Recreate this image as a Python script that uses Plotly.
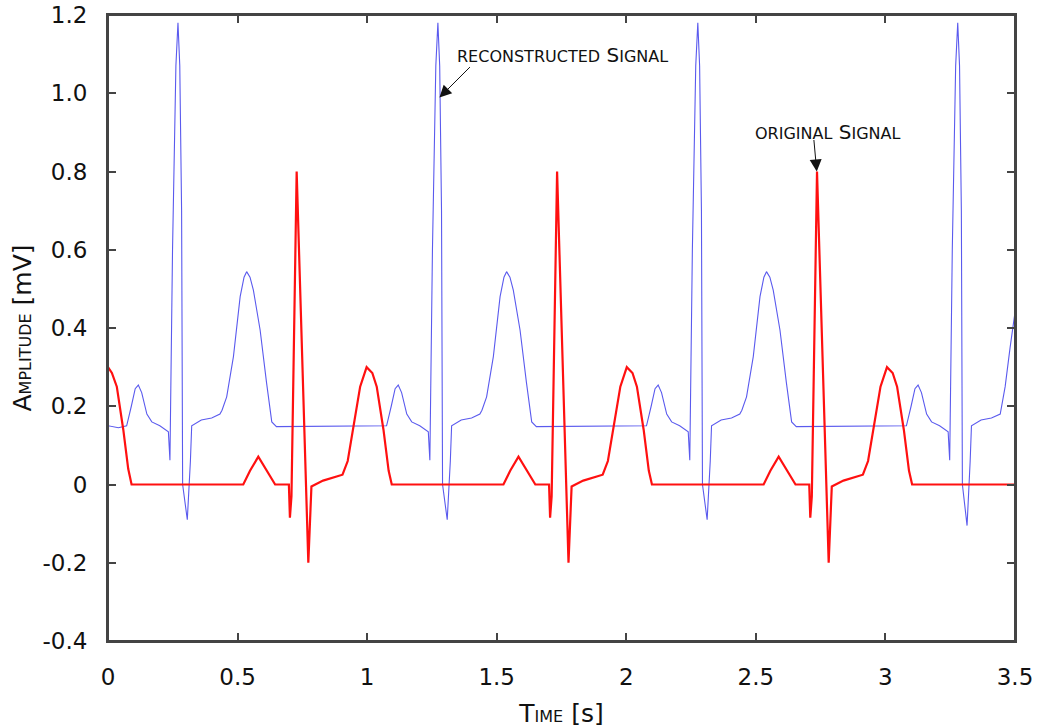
import plotly.graph_objects as go

# ---- data ----
original_time = [
    0.000, 0.015, 0.034, 0.059, 0.078, 0.091,
    0.522, 0.548, 0.580, 0.613, 0.645, 0.698, 0.702, 0.708, 0.728, 0.773, 0.785, 0.830, 0.905, 0.925,
    0.946, 0.973, 0.998, 1.020, 1.037, 1.063, 1.083, 1.095,
    1.526, 1.552, 1.584, 1.617, 1.649, 1.702, 1.706, 1.712, 1.733, 1.777, 1.789, 1.834, 1.909, 1.929,
    1.950, 1.977, 2.002, 2.024, 2.041, 2.067, 2.087, 2.099,
    2.530, 2.556, 2.588, 2.621, 2.653, 2.706, 2.710, 2.716, 2.736, 2.781, 2.793, 2.838, 2.913, 2.933,
    2.954, 2.981, 3.006, 3.028, 3.045, 3.071, 3.091, 3.103, 3.500,
]
original_mv = [
    0.300, 0.285, 0.250, 0.140, 0.040, 0.000,
    0.000, 0.035, 0.071, 0.035, 0.000, 0.000, -0.085, -0.030, 0.800, -0.200, -0.005, 0.010, 0.025, 0.060,
    0.140, 0.250, 0.300, 0.285, 0.250, 0.140, 0.035, 0.000,
    0.000, 0.035, 0.071, 0.035, 0.000, 0.000, -0.085, -0.030, 0.800, -0.200, -0.005, 0.010, 0.025, 0.060,
    0.140, 0.250, 0.300, 0.285, 0.250, 0.140, 0.035, 0.000,
    0.000, 0.035, 0.071, 0.035, 0.000, 0.000, -0.085, -0.030, 0.800, -0.200, -0.005, 0.010, 0.025, 0.060,
    0.140, 0.250, 0.300, 0.285, 0.250, 0.140, 0.035, 0.000, 0.000,
]

reconstructed_time = [
    0.000, 0.002, 0.040, 0.072, 0.090, 0.105, 0.117, 0.130, 0.150, 0.169, 0.200, 0.233, 0.239, 0.249,
    0.262, 0.270, 0.277, 0.284, 0.288, 0.306, 0.318, 0.323, 0.360, 0.400, 0.432, 0.440, 0.458, 0.484,
    0.510, 0.525, 0.535, 0.548, 0.561, 0.587, 0.612, 0.632, 0.650,
    1.075, 1.093, 1.108, 1.120, 1.133, 1.153, 1.172, 1.203, 1.236, 1.242, 1.252, 1.265, 1.273, 1.280,
    1.287, 1.291, 1.309, 1.321, 1.326, 1.363, 1.403, 1.435, 1.443, 1.461, 1.487, 1.513, 1.528, 1.538,
    1.551, 1.564, 1.590, 1.615, 1.635, 1.653,
    2.078, 2.096, 2.111, 2.123, 2.136, 2.156, 2.175, 2.206, 2.239, 2.245, 2.255, 2.268, 2.276, 2.283,
    2.290, 2.294, 2.312, 2.324, 2.329, 2.366, 2.406, 2.438, 2.446, 2.464, 2.490, 2.516, 2.531, 2.541,
    2.554, 2.567, 2.593, 2.618, 2.638, 2.656,
    3.081, 3.099, 3.114, 3.126, 3.139, 3.159, 3.178, 3.209, 3.242, 3.248, 3.258, 3.271, 3.279, 3.286,
    3.293, 3.297, 3.315, 3.327, 3.332, 3.369, 3.409, 3.443, 3.462, 3.481, 3.500,
]
reconstructed_mv = [
    0.020, 0.150, 0.145, 0.150, 0.200, 0.245, 0.254, 0.235, 0.180, 0.160, 0.150, 0.135, 0.062, 0.600,
    1.070, 1.180, 1.070, 0.700, 0.000, -0.090, 0.060, 0.150, 0.165, 0.170, 0.180, 0.190, 0.224, 0.327,
    0.480, 0.530, 0.544, 0.530, 0.497, 0.395, 0.259, 0.160, 0.148,
    0.150, 0.200, 0.245, 0.254, 0.235, 0.180, 0.160, 0.150, 0.135, 0.062, 0.600, 1.070, 1.180, 1.070,
    0.700, 0.000, -0.090, 0.060, 0.150, 0.165, 0.170, 0.180, 0.190, 0.224, 0.327, 0.480, 0.530, 0.544,
    0.530, 0.497, 0.395, 0.259, 0.160, 0.148,
    0.150, 0.200, 0.245, 0.254, 0.235, 0.180, 0.160, 0.150, 0.135, 0.062, 0.600, 1.070, 1.180, 1.070,
    0.700, 0.000, -0.090, 0.060, 0.150, 0.165, 0.170, 0.180, 0.190, 0.224, 0.327, 0.480, 0.530, 0.544,
    0.530, 0.497, 0.395, 0.259, 0.160, 0.148,
    0.150, 0.200, 0.245, 0.254, 0.235, 0.180, 0.160, 0.150, 0.135, 0.062, 0.600, 1.070, 1.180, 1.070,
    0.700, 0.000, -0.105, 0.060, 0.150, 0.165, 0.170, 0.180, 0.250, 0.350, 0.440,
]

x_tick_vals = [0, 0.5, 1, 1.5, 2, 2.5, 3, 3.5]
x_tick_text = ["0", "0.5", "1", "1.5", "2", "2.5", "3", "3.5"]
y_tick_vals = [-0.4, -0.2, 0, 0.2, 0.4, 0.6, 0.8, 1.0, 1.2]
y_tick_text = ["-0.4", "-0.2", "0", "0.2", "0.4", "0.6", "0.8", "1.0", "1.2"]

FONT = "DejaVu Sans"
INK = "#111111"
FRAME = "#444444"
fig = go.Figure()
fig.add_trace(go.Scatter(x=reconstructed_time, y=reconstructed_mv, mode="lines",
                         line=dict(color="#5a5aee", width=1.1), name="Reconstructed Signal"))
fig.add_trace(go.Scatter(x=original_time, y=original_mv, mode="lines",
                         line=dict(color="#ff1010", width=2.2), name="Original Signal"))

axis_common = dict(showline=True, linecolor=FRAME, linewidth=2, mirror="ticks",
                   ticks="inside", ticklen=8, tickcolor=FRAME, tickwidth=1.5,
                   showgrid=False, zeroline=False, automargin=False,
                   ticklabeloverflow="allow",
                   tickfont=dict(family=FONT, size=23, color=INK))

fig.update_xaxes(range=[0, 3.5], tickvals=x_tick_vals, ticktext=x_tick_text,
                 ticklabelstandoff=14,
                 title=dict(text='T<span style="font-size:16px">IME</span> [s]',
                            font=dict(family=FONT, size=25, color=INK), standoff=24),
                 **axis_common)
fig.update_yaxes(range=[-0.4, 1.2], tickvals=y_tick_vals, ticktext=y_tick_text,
                 ticklabelstandoff=14,
                 title=dict(text='A<span style="font-size:16px">MPLITUDE</span> [mV]',
                            font=dict(family=FONT, size=25, color=INK), standoff=4),
                 **axis_common)

# plot frame (top edge included)
fig.add_shape(type="rect", xref="paper", yref="paper", x0=0, x1=1, y0=0, y1=1,
              line=dict(color=FRAME, width=2), layer="above")

small = 'style="font-size:16px"'
fig.add_annotation(x=1.755, y=1.098, xref="x", yref="y", showarrow=False,
                   text=f'<span {small}>RECONSTRUCTED</span> S<span {small}>IGNAL</span>',
                   font=dict(family=FONT, size=20, color=INK))
fig.add_annotation(x=1.279, y=0.989, xref="x", yref="y", text="", showarrow=True,
                   ax=32, ay=-32, arrowhead=2, arrowsize=2.4, arrowwidth=1, arrowcolor=INK)
fig.add_annotation(x=2.777, y=0.901, xref="x", yref="y", showarrow=False,
                   text=f'<span {small}>ORIGINAL</span> S<span {small}>IGNAL</span>',
                   font=dict(family=FONT, size=20, color=INK))
fig.add_annotation(x=2.735, y=0.80, xref="x", yref="y", text="", showarrow=True,
                   ax=-3, ay=-33, arrowhead=2, arrowsize=2.4, arrowwidth=1, arrowcolor=INK)

fig.update_layout(width=1041, height=728, showlegend=False,
                  plot_bgcolor="white", paper_bgcolor="white",
                  margin=dict(l=108, r=26, t=15, b=87))
# remove the default page margin so the figure fills the window exactly
fig.write_html("out.html", config={"displayModeBar": False},
               post_script="document.body.style.margin='0';")
